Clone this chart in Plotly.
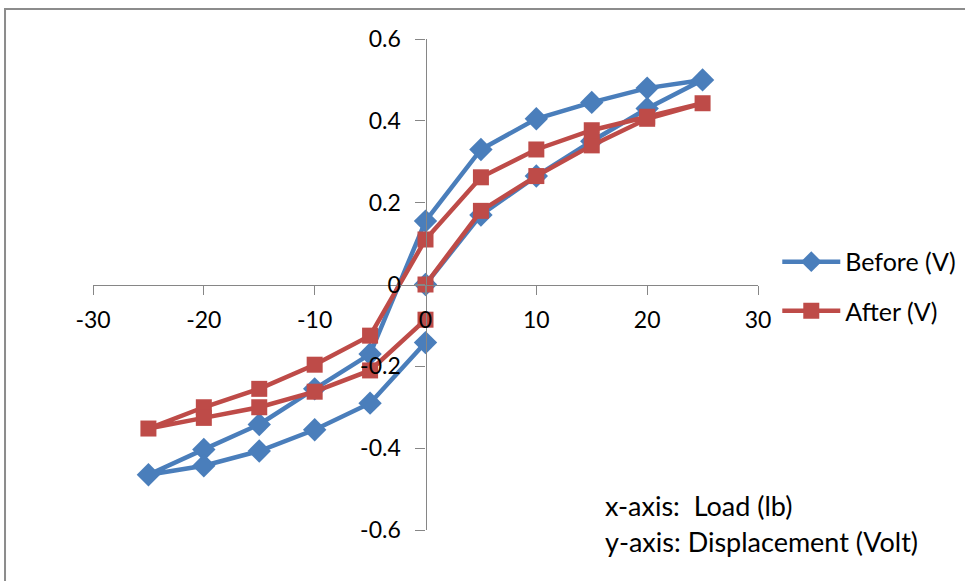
import plotly.graph_objects as go

# Data
before_load = [0, 5, 10, 15, 20, 25, 20, 15, 10, 5, 0, -5, -10, -15, -20, -25, -20, -15, -10, -5, 0]
before_volt = [0.0, 0.17, 0.265, 0.35, 0.43, 0.50, 0.48, 0.445, 0.405, 0.33, 0.155,
               -0.17, -0.255, -0.342, -0.403, -0.465, -0.443, -0.407, -0.355, -0.29, -0.142]
after_load = [0, 5, 10, 15, 20, 25, 20, 15, 10, 5, 0, -5, -10, -15, -20, -25, -20, -15, -10, -5, 0]
after_volt = [0.0, 0.18, 0.265, 0.34, 0.405, 0.443, 0.41, 0.377, 0.33, 0.262, 0.11,
              -0.125, -0.196, -0.255, -0.30, -0.352, -0.326, -0.30, -0.262, -0.21, -0.086]

x_ticks = [-30, -20, -10, 0, 10, 20, 30]
y_ticks = [-0.6, -0.4, -0.2, 0, 0.2, 0.4, 0.6]
y_tick_text = ["-0.6", "-0.4", "-0.2", "0", "0.2", "0.4", "0.6"]

BLUE = "#4A7EBB"
RED = "#BE4B48"
AXIS = "#868686"
FONT = "Lato"

fig = go.Figure()
fig.add_trace(go.Scatter(
    x=before_load, y=before_volt, name="Before (V)", mode="lines+markers",
    line=dict(color=BLUE, width=4.5),
    marker=dict(symbol="diamond", size=18, color=BLUE),
    legend="legend",
))
fig.add_trace(go.Scatter(
    x=after_load, y=after_volt, name="After (V)", mode="lines+markers",
    line=dict(color=RED, width=4.5),
    marker=dict(symbol="square", size=16, color=RED),
    legend="legend2",
))

fig.update_layout(
    width=965, height=581,
    margin=dict(l=93, r=207, t=39, b=51, autoexpand=False),
    paper_bgcolor="white", plot_bgcolor="white",
    font=dict(family=FONT, size=23, color="#000000"),
    showlegend=True,
    legend=dict(x=1.029, y=0.546, xanchor="left", yanchor="middle",
                font=dict(family=FONT, size=25), itemwidth=58, bgcolor="rgba(0,0,0,0)"),
    legend2=dict(x=1.029, y=0.446, xanchor="left", yanchor="middle",
                 font=dict(family=FONT, size=25), itemwidth=58, bgcolor="rgba(0,0,0,0)"),
    xaxis=dict(
        range=[-30, 30], tickvals=x_ticks, ticktext=[str(v) for v in x_ticks],
        showgrid=False, zeroline=False, showline=True, linecolor=AXIS, linewidth=1.3,
        ticks="outside", ticklen=9, tickcolor=AXIS, tickwidth=1.3,
        anchor="free", position=0.5, ticklabelstandoff=6, automargin=False,
        tickfont=dict(family=FONT, size=23),
    ),
    yaxis=dict(
        range=[-0.6, 0.6], tickvals=y_ticks, ticktext=y_tick_text,
        showgrid=False, zeroline=False, showline=True, linecolor=AXIS, linewidth=1.3,
        ticks="outside", ticklen=10, tickcolor=AXIS, tickwidth=1.3,
        anchor="free", position=0.5, ticklabelstandoff=10, automargin=False,
        tickfont=dict(family=FONT, size=23),
    ),
    shapes=[dict(type="rect", xref="paper", yref="paper",
                 x0=-0.1323, x1=1.5, y0=-0.3, y1=1.0611,
                 line=dict(color="#8C8C8C", width=2), fillcolor="rgba(0,0,0,0)", layer="below")],
    annotations=[
        dict(text="x-axis:  Load (lb)", xref="paper", yref="paper",
             x=(603 - 93) / 665, y=(530 - 505) / 491, xanchor="left", yanchor="middle",
             showarrow=False, font=dict(family=FONT, size=27)),
        dict(text="y-axis: Displacement (Volt)", xref="paper", yref="paper",
             x=(603 - 93) / 665, y=(530 - 541) / 491, xanchor="left", yanchor="middle",
             showarrow=False, font=dict(family=FONT, size=27)),
    ],
)

fig.write_html("out.html")
